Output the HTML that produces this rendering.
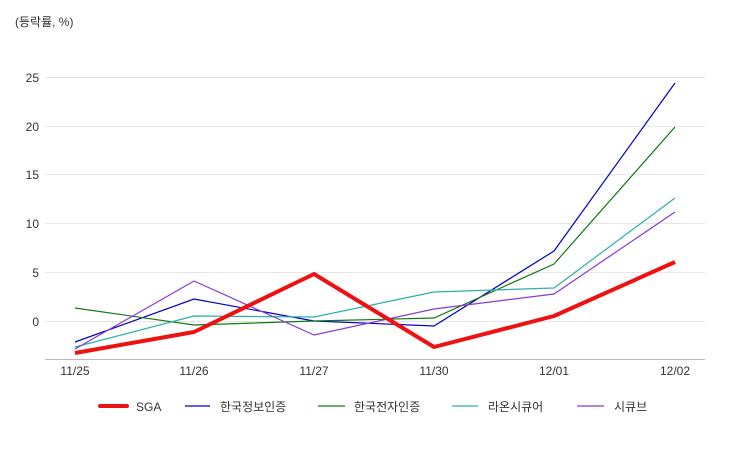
<!DOCTYPE html>
<html><head><meta charset="utf-8"><style>
body{margin:0;background:#fff;}
svg{display:block;font-family:"Liberation Sans","Noto Sans CJK KR",sans-serif;}
</style></head><body>
<svg width="750" height="450" viewBox="0 0 750 450">
<text x="15" y="26" font-size="12" fill="#333">(등락률, %)</text>
<g stroke="#e6e6e6" stroke-width="1">
<line x1="45" x2="705" y1="77.5" y2="77.5"/>
<line x1="45" x2="705" y1="126.5" y2="126.5"/>
<line x1="45" x2="705" y1="174.5" y2="174.5"/>
<line x1="45" x2="705" y1="223.5" y2="223.5"/>
<line x1="45" x2="705" y1="272.5" y2="272.5"/>
<line x1="45" x2="705" y1="321.5" y2="321.5"/>
</g>
<line x1="45" x2="705" y1="359.5" y2="359.5" stroke="#bbb"/>
<g font-size="12" fill="#333" text-anchor="end">
<text x="39" y="82">25</text><text x="39" y="131">20</text><text x="39" y="179">15</text>
<text x="39" y="228">10</text><text x="39" y="277">5</text><text x="39" y="326">0</text>
</g>
<g font-size="12" fill="#333" text-anchor="middle">
<text x="75" y="375">11/25</text><text x="194" y="375">11/26</text><text x="314" y="375">11/27</text>
<text x="434" y="375">11/30</text><text x="554" y="375">12/01</text><text x="675" y="375">12/02</text>
</g>
<g fill="none" stroke-width="1.2">
<polyline stroke="#0000cc" points="75,342 194,299 314,321 434,326 554,251 675,83"/>
<polyline stroke="#117a11" points="75,308 194,325 314,321 434,318 554,264 675,127"/>
<polyline stroke="#2ab0a8" points="75,347 194,316 314,317 434,292 554,288 675,198"/>
<polyline stroke="#8a3ad0" points="75,349 194,281 314,335 434,309 554,294 675,212"/>
<polyline stroke="#ee1111" stroke-width="4" stroke-linejoin="round" points="75,353 194,332 314,274 434,347 554,316 675,262"/>
</g>
<g font-size="12" fill="#333">
<line x1="100" x2="127" y1="406" y2="406" stroke="#ee1111" stroke-width="4" stroke-linecap="round"/>
<text x="136" y="411">SGA</text>
<line x1="185" x2="210" y1="406" y2="406" stroke="#0000cc" stroke-width="1.2"/>
<text x="220" y="411">한국정보인증</text>
<line x1="318" x2="345" y1="406" y2="406" stroke="#117a11" stroke-width="1.2"/>
<text x="354" y="411">한국전자인증</text>
<line x1="452" x2="478" y1="406" y2="406" stroke="#2ab0a8" stroke-width="1.2"/>
<text x="488" y="411">라온시큐어</text>
<line x1="577" x2="604" y1="406" y2="406" stroke="#8a3ad0" stroke-width="1.2"/>
<text x="614" y="411">시큐브</text>
</g>
</svg>
</body></html>
